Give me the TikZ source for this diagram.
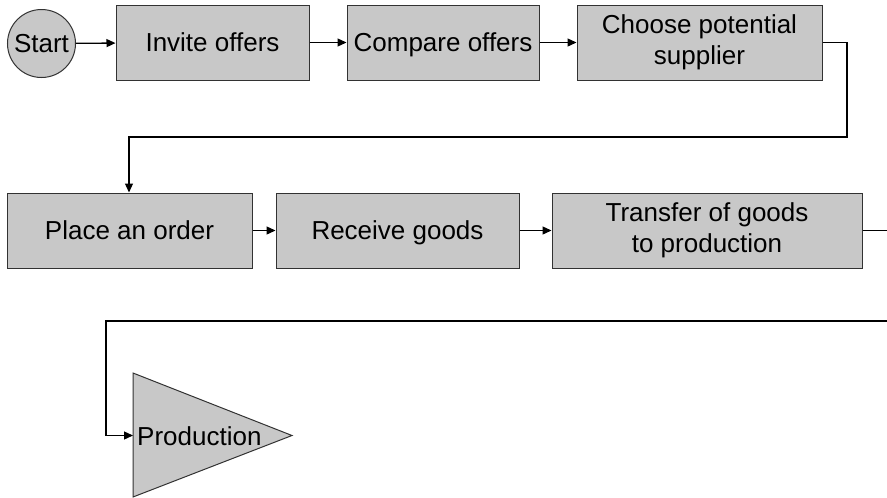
\documentclass[tikz,border=0pt]{standalone}
\usepackage{fontspec}
\setmainfont{Liberation Sans}
\usetikzlibrary{arrows.meta}
\definecolor{boxgray}{RGB}{200,200,200}
\definecolor{edgegray}{RGB}{50,50,50}
\begin{document}
\begin{tikzpicture}[x=1pt,y=-1pt,
  label/.style={font=\fontsize{26}{30.5}\selectfont, inner sep=0pt},
  proc/.style={label, draw=edgegray, line width=1pt, fill=boxgray,
    minimum height=75pt, align=center},
  oneline/.style={text height=18.7pt, text depth=0pt},
  startnode/.style={label, oneline, circle, draw=edgegray, line width=1pt,
    fill=boxgray, minimum size=68pt},
  conn/.style={draw=black, line width=1.3pt, -{Triangle[length=9pt,width=8pt]}},
  plain/.style={draw=black, line width=1.3pt}
]
\useasboundingbox (0,0) rectangle (887,498);
\clip (0,0) rectangle (887,498);

% first row
\node[startnode] (start) at (41.5,43.5) {Start};
\node[proc, oneline, minimum width=193pt] (invite) at (212.5,42.5) {Invite offers};
\node[proc, oneline, minimum width=192pt] (compare) at (443,42.5) {Compare offers};
\node[proc, minimum width=245pt] (choose) at (699.5,42.5) {Choose potential\\supplier};

% second row
\node[proc, oneline, minimum width=245pt] (place) at (129.5,230.5) {Place an order};
\node[proc, oneline, minimum width=243pt] (receive) at (397.5,230.5) {Receive goods};
\node[proc, minimum width=310pt] (transfer) at (707,230.5) {Transfer of goods\\to production};

% production triangle
\draw[draw=edgegray, line width=1pt, fill=boxgray]
  (133,373) -- (292,435.5) -- (133,497) -- cycle;
\coordinate (prodin) at (133,435.5);
\node[label, oneline, anchor=west] (prod) at (137,436) {Production};

% bend points
\coordinate (rowA) at (847,137);
\coordinate (rowB) at (129,137);
\coordinate (outA) at (900,230.5);
\coordinate (outB) at (900,321);
\coordinate (backB) at (106,321);

% connectors
\draw[conn] (start) -- (invite);
\draw[conn] (invite) -- (compare);
\draw[conn] (compare) -- (choose);
\draw[conn] (choose.east) -| (rowA) -- (rowB) -- (rowB |- place.north);
\draw[conn] (place) -- (receive);
\draw[conn] (receive) -- (transfer);
\draw[conn] (transfer.east) -- (outA) -- (outB) -- (backB) |- (prodin);
\end{tikzpicture}
\end{document}
